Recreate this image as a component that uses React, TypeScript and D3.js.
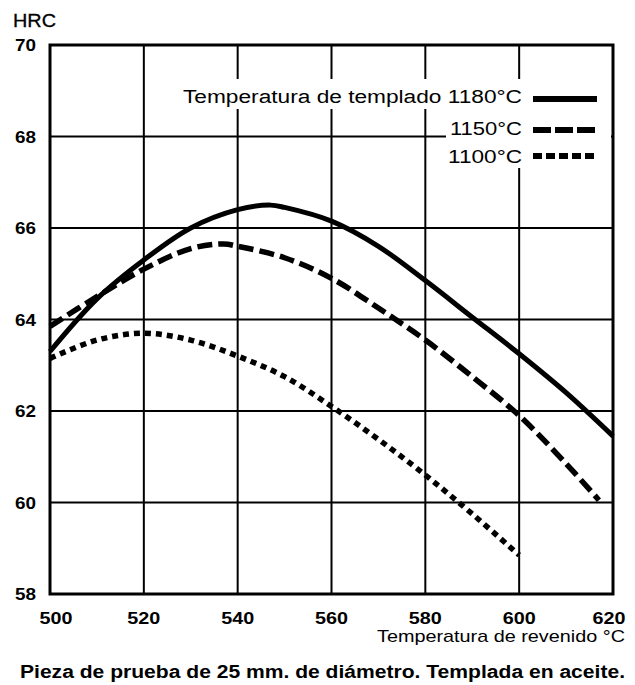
import React from "react";
import * as d3 from "d3";

// Tempering temperature (°C) vs hardness (HRC) for three quenching temperatures
const temp1180 = [500, 510, 520, 530, 540, 547, 550, 560, 570, 580, 590, 600, 610, 620];
const hrc1180 = [63.3, 64.45, 65.3, 66.0, 66.4, 66.5, 66.45, 66.15, 65.6, 64.85, 64.05, 63.25, 62.4, 61.45];

const temp1150 = [500, 510, 520, 530, 537, 540, 550, 560, 570, 580, 590, 600, 610, 617];
const hrc1150 = [63.85, 64.5, 65.1, 65.55, 65.65, 65.6, 65.35, 64.9, 64.25, 63.55, 62.75, 61.9, 60.85, 60.05];

const temp1100 = [500, 510, 520, 530, 540, 550, 560, 570, 580, 590, 600];
const hrc1100 = [63.15, 63.55, 63.7, 63.55, 63.2, 62.75, 62.1, 61.38, 60.6, 59.75, 58.85];

const xTicks = [500, 520, 540, 560, 580, 600, 620];
const yTicks = [58, 60, 62, 64, 66, 68, 70];

const legendLabels = ["Temperatura de templado 1180°C", "1150°C", "1100°C"];
const yLabel = "HRC";
const xLabel = "Temperatura de revenido °C";
const caption = "Pieza de prueba de 25 mm. de diámetro. Templada en aceite.";

const FONT = "'Liberation Sans', Arial, Helvetica, sans-serif";

export default function App() {
  const W = 635;
  const H = 685;
  const x = d3.scaleLinear().domain([500, 620]).range([50, 613]);
  const y = d3.scaleLinear().domain([58, 70]).range([594, 45]);

  const line = d3
    .line<[number, number]>()
    .x((d) => x(d[0]))
    .y((d) => y(d[1]))
    .curve(d3.curveCatmullRom.alpha(0.5));

  const series = [
    { t: temp1180, h: hrc1180, dash: undefined as string | undefined, legDash: undefined as string | undefined },
    { t: temp1150, h: hrc1150, dash: "15,6", legDash: "18,4" },
    { t: temp1100, h: hrc1100, dash: "6,5", legDash: "9,4" },
  ];

  const legendRows = [
    { textY: 103, lineY: 99, x0: 183 },
    { textY: 135, lineY: 130, x0: 450 },
    { textY: 163, lineY: 156, x0: 448 },
  ];

  return (
    <svg
      width={W}
      height={H}
      style={{ position: "absolute", left: 0, top: 0, background: "#fff" }}
      fontFamily={FONT}
    >
      <rect x={0} y={0} width={W} height={H} fill="#fff" />
      {/* grid */}
      {xTicks.map((v) => (
        <line key={"gx" + v} x1={x(v)} x2={x(v)} y1={y(70)} y2={y(58)} stroke="#000" strokeWidth={2} />
      ))}
      {yTicks.map((v) => (
        <line key={"gy" + v} x1={x(500)} x2={x(620)} y1={y(v)} y2={y(v)} stroke="#000" strokeWidth={2} />
      ))}

      {/* legend background */}
      <rect x={178} y={79} width={433} height={30} fill="#fff" />
      <rect x={446} y={79} width={165} height={89} fill="#fff" />

      {/* legend */}
      {series.map((s, i) => (
        <g key={"leg" + i}>
          <text
            x={522}
            y={legendRows[i].textY}
            textAnchor="end"
            fontSize={18}
            fill="#000"
            textLength={522 - legendRows[i].x0}
            lengthAdjust="spacingAndGlyphs"
          >
            {legendLabels[i]}
          </text>
          <line
            x1={533}
            x2={597}
            y1={legendRows[i].lineY}
            y2={legendRows[i].lineY}
            stroke="#000"
            strokeWidth={6}
            strokeDasharray={s.legDash}
          />
        </g>
      ))}

      {/* curves */}
      {series.map((s, i) => (
        <path
          key={"c" + i}
          d={line(s.t.map((t, j) => [t, s.h[j]] as [number, number])) || ""}
          fill="none"
          stroke="#000"
          strokeWidth={i === 0 ? 5 : 5.5}
          strokeDasharray={s.dash}
        />
      ))}

      {/* frame */}
      <rect
        x={x(500)}
        y={y(70)}
        width={x(620) - x(500)}
        height={y(58) - y(70)}
        fill="none"
        stroke="#000"
        strokeWidth={3}
      />

      {/* y tick labels */}
      {yTicks.map((v) => (
        <text key={"yl" + v} x={15} y={y(v) + 6} fontSize={17} fontWeight="bold" fill="#000" textLength={21} lengthAdjust="spacingAndGlyphs">
          {v}
        </text>
      ))}
      {/* x tick labels */}
      {xTicks.map((v, i) => (
        <text
          key={"xl" + v}
          x={x(v) + (i === 0 ? 6 : i === xTicks.length - 1 ? -4 : 0)}
          y={624}
          fontSize={17}
          fontWeight="bold"
          textAnchor="middle"
          fill="#000"
          textLength={33}
          lengthAdjust="spacingAndGlyphs"
        >
          {v}
        </text>
      ))}

      <text x={13} y={27} fontSize={18} fill="#000" stroke="#000" strokeWidth={0.3} textLength={43} lengthAdjust="spacingAndGlyphs">
        {yLabel}
      </text>
      <text x={377} y={642} fontSize={17} fill="#000" textLength={248} lengthAdjust="spacingAndGlyphs">
        {xLabel}
      </text>
      <text
        x={20}
        y={678}
        fontSize={18}
        fontWeight="bold"
        fill="#000"
        textLength={605}
        lengthAdjust="spacingAndGlyphs"
      >
        {caption}
      </text>
    </svg>
  );
}
